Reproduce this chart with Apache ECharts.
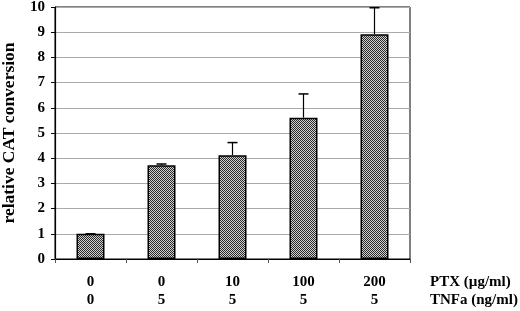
<!DOCTYPE html>
<html>
<head>
<meta charset="utf-8">
<script src="https://cdn.jsdelivr.net/npm/echarts@6/dist/echarts.min.js"></script>
<style>
html, body { margin: 0; padding: 0; background: #fff; }
#chart { width: 520px; height: 311px; }
</style>
</head>
<body>
<div id="chart"></div>
<script>
var ptx = ['0', '0', '10', '100', '200'];
var tnf = ['0', '5', '5', '5', '5'];
var values = [1.0, 3.72, 4.12, 5.61, 8.92];
var errTop = [1.0, 3.77, 4.62, 6.55, 9.97];
var yTicks = [0, 1, 2, 3, 4, 5, 6, 7, 8, 9, 10];

var cats = ptx.map(function (p, i) { return p + '\n' + tnf[i]; });

// dither fill like the printed figure
var pat = document.createElement('canvas');
pat.width = 2; pat.height = 2;
var ctx = pat.getContext('2d');
ctx.fillStyle = '#d0d0d0';
ctx.fillRect(0, 0, 2, 2);
ctx.fillStyle = '#2a2a2a';
ctx.fillRect(0, 0, 1, 1);
ctx.fillRect(1, 1, 1, 1);

var font = 'Liberation Serif';
var chart = echarts.init(document.getElementById('chart'));

var option = {
    animation: false,
    grid: {
        left: 55, right: 110, top: 7, bottom: 52,
        outerBoundsMode: 'none',
        containLabel: false,
        show: true, borderColor: '#000', borderWidth: 1
    },
    xAxis: {
        type: 'category',
        data: cats,
        name: 'PTX (\u00b5g/ml)\nTNFa (ng/ml)',
        nameLocation: 'end',
        nameGap: 20,
        nameTextStyle: {
            fontFamily: font, fontWeight: 'bold', fontSize: 15, color: '#000',
            align: 'left', verticalAlign: 'top', lineHeight: 18,
            padding: [14, 0, 0, 0]
        },
        axisLine: { lineStyle: { color: '#000', width: 1.2 } },
        axisTick: { show: true, length: 4, lineStyle: { color: '#555' } },
        axisLabel: {
            fontFamily: font, fontWeight: 'bold', fontSize: 15, color: '#000',
            lineHeight: 18, margin: 14
        }
    },
    yAxis: {
        type: 'value',
        min: 0, max: 10, interval: 1,
        name: 'relative CAT conversion',
        nameLocation: 'middle',
        nameGap: 37,
        nameTextStyle: { fontFamily: font, fontWeight: 'bold', fontSize: 17.5, color: '#000' },
        axisLine: { show: true, lineStyle: { color: '#000', width: 1.2 } },
        axisTick: { show: true, length: 4, lineStyle: { color: '#000' } },
        axisLabel: {
            fontFamily: font, fontWeight: 'bold', fontSize: 15, color: '#000', margin: 10,
            formatter: function (v) { return yTicks.indexOf(v) >= 0 ? String(v) : ''; }
        },
        splitLine: { lineStyle: { color: '#aaa', width: 1 } }
    },
    series: [
        {
            type: 'bar',
            data: values,
            barWidth: 28,
            itemStyle: {
                color: { image: pat, repeat: 'repeat' },
                borderColor: '#000',
                borderWidth: 1.5
            },
            z: 2
        },
        {
            type: 'custom',
            data: values.map(function (v, i) { return [i, v, errTop[i]]; }),
            renderItem: function (params, api) {
                var p0 = api.coord([api.value(0), api.value(1)]);
                var p1 = api.coord([api.value(0), api.value(2)]);
                var half = 5;
                return {
                    type: 'group',
                    children: [
                        { type: 'line', shape: { x1: p0[0], y1: p0[1], x2: p1[0], y2: p1[1] },
                          style: { stroke: '#000', lineWidth: 1.2 } },
                        { type: 'line', shape: { x1: p1[0] - half, y1: p1[1], x2: p1[0] + half, y2: p1[1] },
                          style: { stroke: '#000', lineWidth: 1.5 } }
                    ]
                };
            },
            z: 3
        }
    ]
};

chart.setOption(option);
</script>
</body>
</html>
